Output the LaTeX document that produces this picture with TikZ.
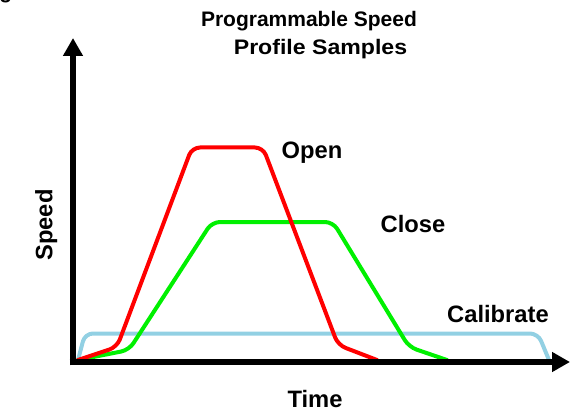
\documentclass[tikz,border=0pt]{standalone}
\usepackage{fontspec}
\setmainfont{Liberation Sans}
\usetikzlibrary{arrows.meta}
\definecolor{calblue}{RGB}{146,208,227}
\definecolor{opred}{RGB}{255,0,0}
\definecolor{clgreen}{RGB}{0,240,0}
\tikzset{
  axis/.style={line width=4.9pt,-{Triangle[length=13.5pt,width=14.25pt]}},
  profile/.style={line width=3pt,rounded corners=6pt,line cap=round},
  titletext/.style={anchor=base,font=\fontsize{15.75pt}{19pt}\selectfont\bfseries,inner sep=0pt},
  labeltext/.style={anchor=base,font=\fontsize{17.8pt}{21pt}\selectfont\bfseries,inner sep=0pt}
}
\begin{document}
\begin{tikzpicture}[x=0.75pt,y=-0.75pt]
\useasboundingbox (0,0) rectangle (579,410);
% cut-off glyph at top-left
\node[titletext,anchor=base west] (frag) at (-1,-1) {g};
% title
\node[titletext] (t1) at (309,27) {Programmable Speed};
\node[titletext,xscale=1.1] (t2) at (320.5,55) {Profile Samples};
% profiles
\draw[profile,calblue] (78,360) -- (85,333.5) -- (538,333.5) -- (549,360);
\draw[profile,clgreen] (78,360) -- (129,350) -- (212,222) -- (333,222) -- (409,347) -- (447,360);
\draw[profile,opred] (78,360) -- (117,347) -- (192,147.5) -- (263,147.5) -- (338,345) -- (377,360);
% axes
\coordinate (ybot) at (73,365.3);
\coordinate (ytop) at (73,38);
\coordinate (xleft) at (69.7,362);
\coordinate (xright) at (570,362);
\draw[axis] (ybot) -- (ytop);
\draw[axis] (xleft) -- (xright);
% labels
\node[labeltext] (time) at (315,407) {Time};
\node[labeltext,rotate=90] (speed) at (52.5,225) {Speed};
\node[labeltext] (open) at (312,158) {Open};
\node[labeltext] (close) at (413,233) {Close};
\node[labeltext] (calib) at (498,322) {Calibrate};
\end{tikzpicture}
\end{document}
